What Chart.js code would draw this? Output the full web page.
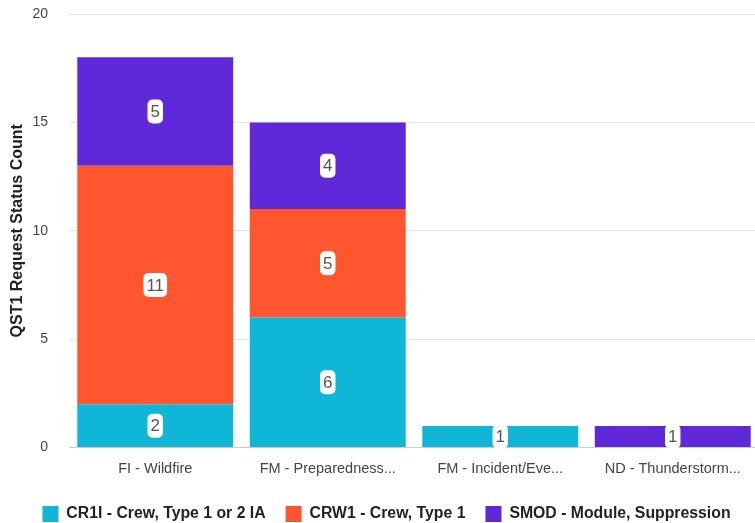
<!DOCTYPE html>
<html>
<head>
<meta charset="utf-8">
<script src="https://cdn.jsdelivr.net/npm/chart.js@4/dist/chart.umd.min.js"></script>
<style>
  html, body { margin: 0; padding: 0; background: #fff; overflow: hidden; }
  #wrap { width: 759px; height: 523px; }
</style>
</head>
<body>
<div id="wrap"><canvas id="statusChart"></canvas></div>
<script>
// Categories along the x axis
const categories = ["FI - Wildfire", "FM - Preparedness...", "FM - Incident/Eve...", "ND - Thunderstorm..."];

// Counts per resource type (null = nothing in that stack)
const cr1iValues = [2, 6, 1, null];
const crw1Values = [11, 5, null, null];
const smodValues = [5, 4, null, 1];

const seriesNames = ["CR1I - Crew, Type 1 or 2 IA", "CRW1 - Crew, Type 1", "SMOD - Module, Suppression"];
const seriesColors = ["#10b6d6", "#ff5630", "#5f28d8"];

const yTicks = [0, 5, 10, 15, 20];

const fontFamily = "'Liberation Sans', Arial, sans-serif";

// Little white rounded boxes with the value in the middle of each segment
const valueBoxes = {
    id: 'valueBoxes',
    afterDatasetsDraw(chart) {
        const ctx = chart.ctx;
        ctx.save();
        ctx.font = "17px " + fontFamily;
        ctx.textAlign = 'center';
        ctx.textBaseline = 'middle';
        chart.data.datasets.forEach((ds, i) => {
            const meta = chart.getDatasetMeta(i);
            meta.data.forEach((bar, j) => {
                const v = ds.data[j];
                if (v === null || v === undefined) return;
                const txt = String(v);
                const cx = bar.x;
                const cy = (bar.y + bar.base) / 2;
                const w = ctx.measureText(txt).width + 6;
                const h = 24;
                ctx.fillStyle = '#ffffff';
                ctx.beginPath();
                ctx.roundRect(cx - w / 2, cy - h / 2, w, h, 5);
                ctx.fill();
                ctx.fillStyle = '#555555';
                ctx.fillText(txt, cx, cy + 1);
            });
        });
        ctx.restore();
    }
};

const ctx = document.getElementById('statusChart').getContext('2d');
const statusChart = new Chart(ctx, {
    type: 'bar',
    data: {
        labels: categories,
        datasets: [
            { label: seriesNames[0], data: cr1iValues, backgroundColor: seriesColors[0] },
            { label: seriesNames[1], data: crw1Values, backgroundColor: seriesColors[1] },
            { label: seriesNames[2], data: smodValues, backgroundColor: seriesColors[2] }
        ]
    },
    options: {
        responsive: true,
        maintainAspectRatio: false,
        animation: false,
        layout: { padding: { top: 0, right: -6, left: 8, bottom: -9 } },
        datasets: {
            bar: { barPercentage: 0.904, categoryPercentage: 1.0 }
        },
        plugins: {
            legend: {
                position: 'bottom',
                labels: {
                    boxWidth: 16,
                    boxHeight: 16,
                    padding: 20,
                    color: '#222',
                    font: { family: fontFamily, size: 15.8, weight: 'bold' }
                }
            },
            tooltip: { enabled: false }
        },
        scales: {
            x: {
                stacked: true,
                grid: { display: false },
                border: { display: true, color: '#c8ccd4', width: 1 },
                afterFit(scale) { scale.height += 3; },
                ticks: {
                    color: '#444',
                    padding: 5,
                    maxRotation: 0,
                    font: { family: fontFamily, size: 14.5 }
                }
            },
            y: {
                stacked: true,
                min: 0,
                max: 20,
                afterBuildTicks(axis) {
                    axis.ticks = yTicks.map(v => ({ value: v }));
                },
                afterFit(scale) {
                    scale.width = 61;
                    scale.paddingTop = 14;
                },
                grid: { color: '#e4e4e4', drawTicks: false },
                border: { display: false },
                ticks: {
                    color: '#444',
                    padding: 21,
                    font: { family: fontFamily, size: 14 }
                },
                title: {
                    display: true,
                    text: 'QST1 Request Status Count',
                    color: '#222',
                    padding: { top: 0, bottom: 0 },
                    font: { family: fontFamily, size: 16, weight: 'bold' }
                }
            }
        }
    },
    plugins: [valueBoxes]
});
</script>
</body>
</html>
